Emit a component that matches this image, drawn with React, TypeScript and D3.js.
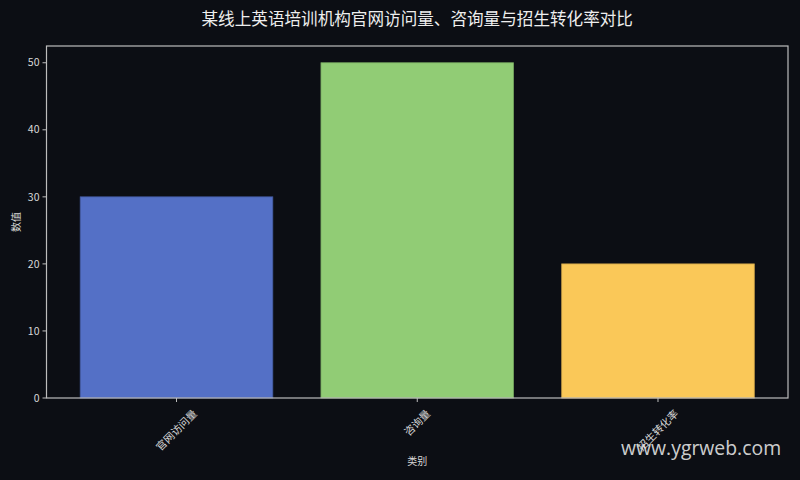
import React from "react";
import * as d3 from "d3";

const categories = ["官网访问量", "咨询量", "招生转化率"];
const values = [30, 50, 20];
const colors = ["#5470c6", "#91cc75", "#fac858"];
const yTicks = [0, 10, 20, 30, 40, 50];
const title = "某线上英语培训机构官网访问量、咨询量与招生转化率对比";
const xLabel = "类别";
const yLabel = "数值";
const watermark = "www.ygrweb.com";

const W = 800;
const H = 480;
const M = { left: 46.5, right: 788, top: 46, bottom: 398 };
const BG = "#0c0e14";
const FONT = "'Noto Sans CJK SC', 'Noto Sans', sans-serif";
const TICK_FS = 10.5;

export default function App() {
  const x = d3.scaleLinear().domain([-0.54, categories.length - 1 + 0.54]).range([M.left, M.right]);
  const y = d3.scaleLinear().domain([0, 52.5]).range([M.bottom, M.top]);
  const bw = x(0.8) - x(0);

  return (
    <svg
      width={W}
      height={H}
      style={{ position: "absolute", left: 0, top: 0, background: BG, fontFamily: FONT }}
    >
      <rect x={0} y={0} width={W} height={H} fill={BG} />
      <text x={(M.left + M.right) / 2} y={24.5} textAnchor="middle" fill="#eeeeee" fontSize={16.6}>
        {title}
      </text>
      {values.map((v, i) => (
        <rect
          key={categories[i]}
          x={x(i) - bw / 2}
          y={y(v)}
          width={bw}
          height={y(0) - y(v)}
          fill={colors[i]}
          stroke={d3.color(colors[i])!.darker(0.6).toString()}
          strokeWidth={0.8}
        />
      ))}
      <rect
        x={M.left}
        y={M.top}
        width={M.right - M.left}
        height={M.bottom - M.top}
        fill="none"
        stroke="#bdbdbd"
        strokeWidth={1.2}
      />
      {yTicks.map((t) => (
        <g key={t}>
          <line x1={M.left - 4} x2={M.left} y1={y(t)} y2={y(t)} stroke="#bdbdbd" strokeWidth={1} />
          <text x={M.left - 7} y={y(t)} dy="0.35em" textAnchor="end" fill="#d8d8d8" fontSize={TICK_FS}>
            {t}
          </text>
        </g>
      ))}
      {categories.map((c, i) => {
        const L = c.length * TICK_FS;
        const cy = 408 + ((L + TICK_FS) * Math.SQRT1_2) / 2;
        return (
          <g key={c}>
            <line x1={x(i)} x2={x(i)} y1={M.bottom} y2={M.bottom + 4} stroke="#bdbdbd" strokeWidth={1} />
            <text
              transform={`translate(${x(i)},${cy}) rotate(-45)`}
              textAnchor="middle"
              dy="0.35em"
              fill="#d8d8d8"
              fontSize={TICK_FS}
            >
              {c}
            </text>
          </g>
        );
      })}
      <text x={(M.left + M.right) / 2} y={465} textAnchor="middle" fill="#d8d8d8" fontSize={10}>
        {xLabel}
      </text>
      <text
        transform={`translate(19.5,${(M.top + M.bottom) / 2}) rotate(-90)`}
        textAnchor="middle"
        fill="#d8d8d8"
        fontSize={10}
      >
        {yLabel}
      </text>
      <text
        x={621}
        y={455}
        fill="#e6e6e6"
        fillOpacity={0.9}
        fontSize={19.4}
        fontFamily="'Open Sans', 'Noto Sans', sans-serif"
      >
        {watermark}
      </text>
    </svg>
  );
}
